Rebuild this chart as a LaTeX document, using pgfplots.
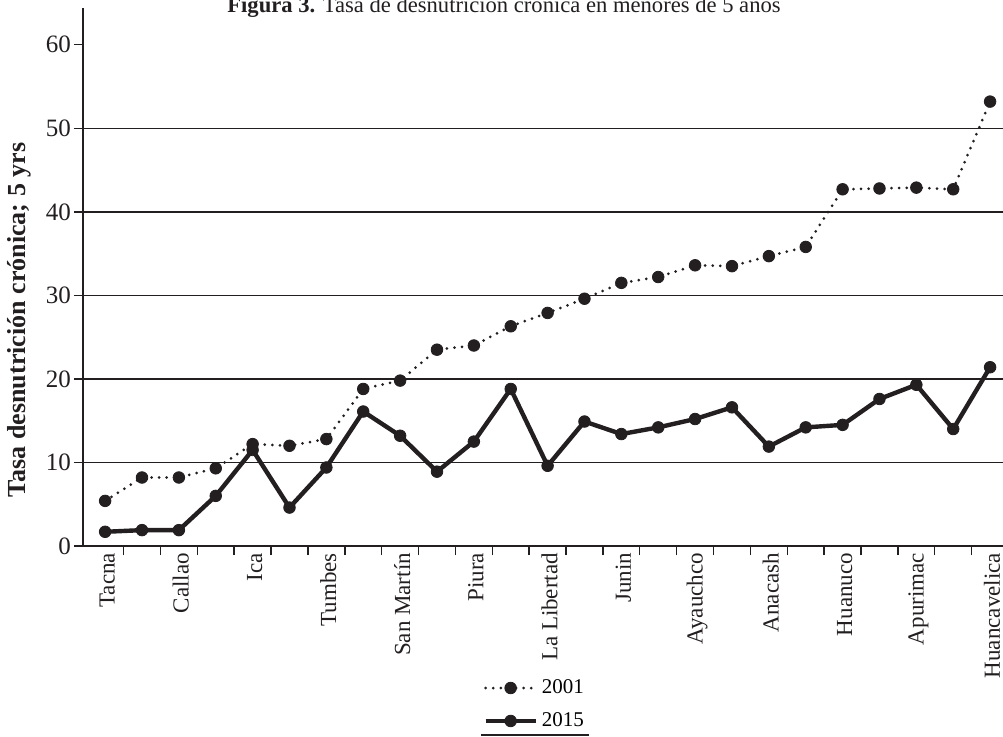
\documentclass[border=0pt]{standalone}
\usepackage{pgfplots}
\pgfplotsset{compat=1.18}
\usepackage{fontspec}
\setmainfont{Liberation Serif}
\definecolor{ink}{HTML}{231F20}
\begin{document}
\begin{tikzpicture}
\useasboundingbox (0pt,0pt) rectangle (501.5pt,368pt);
\begin{axis}[
  at={(41.5pt,95pt)}, anchor=south west,
  scale only axis, width=460pt, height=269pt,
  xmin=-0.6, xmax=24.35, ymin=0, ymax=64.4,
  axis x line=bottom, axis y line=left,
  axis line style={-, line width=1.2pt, ink},
  tick align=outside,
  major tick length=4.5pt,
  tick style={line width=0.7pt, ink},
  xtick={0.5,1.5,...,23.5},
  xticklabels={},
  extra x ticks={0,2,...,24},
  extra x tick labels={Tacna,Callao,Ica,Tumbes,San Martín,Piura,La Libertad,Junin,Ayauchco,Anacash,Huanuco,Apurimac,Huancavelica},
  extra x tick style={major tick length=0pt, xticklabel style={rotate=90, anchor=east, yshift=-1pt, font=\fontsize{11.5}{12}\selectfont, text=ink}},
  ytick={0,10,...,60},
  yticklabel style={font=\fontsize{12.5}{13}\selectfont, text=ink, xshift=2pt},
  extra y ticks={10,20,30,40,50},
  extra y tick labels={},
  extra y tick style={grid=major, major tick length=0pt},
  major grid style={line width=0.7pt, ink},
  /pgf/number format/assume math mode=true,
  legend style={at={(0.492,-0.24)}, anchor=north, draw=none, fill=none,
    font=\fontsize{10.5}{11}\selectfont, row sep=4pt, legend cell align=left,
    inner sep=0pt},
  legend image code/.code={\draw[mark repeat=2, mark phase=2, #1] plot coordinates {(0pt,0pt) (12.5pt,0pt) (25pt,0pt)};},
]
\addplot[ink, line width=1.5pt, dash pattern=on 0pt off 3.8pt, line cap=round, line join=round,
  mark=*, mark size=2.9pt, mark options={solid, fill=ink, line width=0.4pt}] coordinates {
(0,5.4) (1,8.2) (2,8.2) (3,9.3) (4,12.2) (5,12.0) (6,12.8) (7,18.8) (8,19.8)
(9,23.5) (10,24.0) (11,26.3) (12,27.9) (13,29.6) (14,31.5) (15,32.2) (16,33.6)
(17,33.5) (18,34.7) (19,35.8) (20,42.7) (21,42.8) (22,42.9) (23,42.7) (24,53.2)};
\addlegendentry{2001}
\addplot[ink, line width=2.2pt, line join=round,
  mark=*, mark size=2.9pt, mark options={solid, fill=ink, line width=0.4pt}] coordinates {
(0,1.7) (1,1.9) (2,1.9) (3,6.0) (4,11.5) (5,4.6) (6,9.4) (7,16.1) (8,13.2)
(9,8.9) (10,12.5) (11,18.8) (12,9.6) (13,14.9) (14,13.4) (15,14.2) (16,15.2)
(17,16.6) (18,11.9) (19,14.2) (20,14.5) (21,17.6) (22,19.3) (23,14.0) (24,21.4)};
\addlegendentry{2015}
\end{axis}
\node[rotate=90, anchor=center, font=\fontsize{13}{14}\selectfont\bfseries, text=ink] at (9.5pt,208pt) {Tasa desnutrición crónica; 5 yrs};
\node[anchor=base, font=\fontsize{11.3}{12}\selectfont, text=ink] at (252pt,362pt) {\textbf{Figura 3.} Tasa de desnutrición crónica en menores de 5 años};
\draw[ink, line width=1pt] (240.5pt,0.5pt) -- (294.5pt,0.5pt);
\end{tikzpicture}
\end{document}
